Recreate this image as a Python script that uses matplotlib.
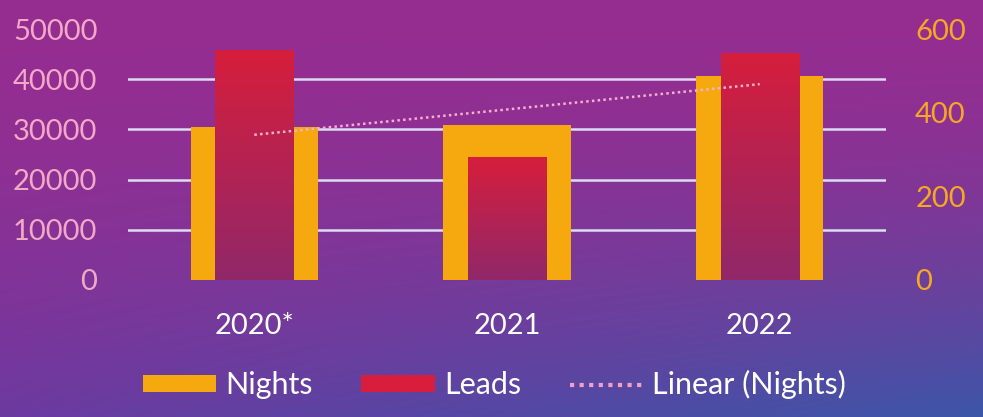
import numpy as np
import matplotlib
matplotlib.use("Agg")
import matplotlib.pyplot as plt
from matplotlib.patches import Patch
from matplotlib.lines import Line2D

categories = ["2020*", "2021", "2022"]
nights = [366, 370, 487]
leads = [45800, 24500, 45300]
left_ticks = [0, 10000, 20000, 30000, 40000, 50000]
right_ticks = [0, 200, 400, 600]

plt.rcParams['font.family'] = ['Lato', 'DejaVu Sans']

W, H = 983, 417
fig = plt.figure(figsize=(W / 100, H / 100), dpi=100)

# background gradient
bg = fig.add_axes([0, 0, 1, 1], zorder=0)
yy, xx = np.mgrid[0:1:200j, 0:1:400j]
top = np.array([150, 45, 145]) / 255
bl = np.array([108, 58, 160]) / 255
br = np.array([60, 86, 168]) / 255
t = (yy ** 1.8)[..., None]
s = xx[..., None]
bottom = bl * (1 - s) + br * s
img = top * (1 - t) + bottom * t
bg.imshow(img, aspect='auto', extent=[0, 1, 0, 1], origin='upper')
bg.axis('off')

pos = [128 / W, 1 - 280 / H, (886 - 128) / W, (280 - 29) / H]
ax2 = fig.add_axes(pos, zorder=1)   # Nights (right axis)
ax = fig.add_axes(pos, zorder=2, sharex=ax2)    # Leads (left axis)
ax3 = fig.add_axes(pos, zorder=3, sharex=ax2, sharey=ax2)  # trend line

x = np.arange(len(categories))
for a in (ax, ax2, ax3):
    a.patch.set_visible(False)
    for sp in a.spines.values():
        sp.set_visible(False)

# Nights bars
nb = ax2.bar(x, nights, width=0.505, color='#f6a90f', zorder=2)
ax2.set_ylim(0, 600)
ax2.set_xlim(-0.5, len(categories) - 0.5)
ax2.set_yticks(right_ticks)
ax2.set_yticks(np.linspace(0, 600, len(left_ticks)), minor=True)
ax2.grid(which='minor', axis='y', color='#dcdcf2', lw=1.8, zorder=0)
ax2.tick_params(axis='y', which='minor', length=0)
ax2.yaxis.tick_right()
ax2.tick_params(axis='y', which='major', length=0, labelsize=21, labelcolor='#f7a823', pad=21)
ax2.tick_params(axis='x', length=0, labelsize=21, labelcolor='white', pad=24)
ax2.set_xticks(x)
ax2.set_xticklabels(categories)
ax2.set_axisbelow(True)

# Leads bars with vertical gradient
lb = ax.bar(x, leads, width=0.31, color='#cf1f3c', zorder=2)
grad = np.linspace(0, 1, 100)[:, None]
c_top = np.array([214, 30, 60]) / 255
c_bot = np.array([145, 40, 105]) / 255
gimg = (c_top * (1 - grad[..., None]) + c_bot * grad[..., None])
gimg = np.repeat(gimg, 2, axis=1)
for r in lb:
    x0 = r.get_x()
    im = ax.imshow(gimg, aspect='auto', extent=[x0, x0 + r.get_width(), 0, r.get_height()],
                   origin='upper', zorder=3)
    im.set_clip_path(r)
ax.set_xlim(-0.5, len(categories) - 0.5)
ax.set_ylim(0, 50000)
ax.set_yticks(left_ticks)
ax.set_yticklabels([str(v) for v in left_ticks])
ax.tick_params(axis='y', length=0, labelsize=21, labelcolor='#f2a9c8', pad=22)
ax.tick_params(axis='x', length=0, labelbottom=False)

# Linear trend of Nights
coef = np.polyfit(x, nights, 1)
trend = np.polyval(coef, x)
ax3.plot(x, trend, ls=(0, (1, 1.3)), color='#f4b0d0', lw=1.8, zorder=4)
ax3.axis('off')

handles = [Patch(facecolor='#f6a90f', edgecolor='none'),
           Patch(facecolor='#d81e3c', edgecolor='none'),
           Line2D([0], [0], ls=(0, (1, 1.3)), color='#f2a0c4', lw=3)]
leg = fig.legend(handles, ['Nights', 'Leads', 'Linear (Nights)'], loc='center',
                 bbox_to_anchor=(0.503, 0.077), ncol=3, frameon=False, fontsize=22,
                 handlelength=2.4, handleheight=0.5, columnspacing=1.6, handletextpad=0.3)
for txt in leg.get_texts():
    txt.set_color('white')

fig.savefig('out.png', dpi=100)
